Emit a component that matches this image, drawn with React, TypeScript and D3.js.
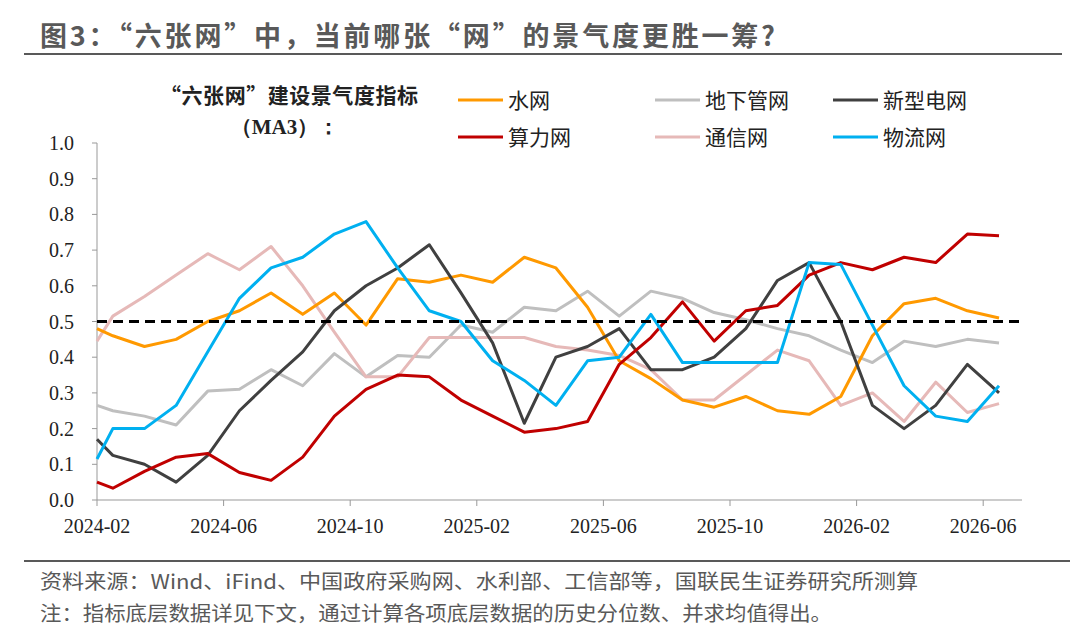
import React, { useEffect, useRef } from 'react';
import * as d3 from 'd3';

// x positions in months from 2024-02 (first point sits on the axis, the rest at mid-month)
const xPos = [0, ...d3.range(29).map((i) => i + 0.5)];
const tickLabels = ['2024-02', '2024-06', '2024-10', '2025-02', '2025-06', '2025-10', '2026-02', '2026-06'];

const water = [0.48, 0.46, 0.43, 0.45, 0.5, 0.53, 0.58, 0.52, 0.58, 0.49, 0.62, 0.61, 0.63, 0.61, 0.68, 0.65, 0.54, 0.39, 0.34, 0.28, 0.26, 0.29, 0.25, 0.24, 0.29, 0.46, 0.55, 0.565, 0.53, 0.51];
const pipe = [0.265, 0.25, 0.235, 0.21, 0.305, 0.31, 0.365, 0.32, 0.41, 0.345, 0.405, 0.4, 0.49, 0.47, 0.54, 0.53, 0.585, 0.515, 0.585, 0.565, 0.525, 0.505, 0.48, 0.46, 0.42, 0.385, 0.445, 0.43, 0.45, 0.44];
const grid = [0.17, 0.125, 0.1, 0.05, 0.125, 0.25, 0.335, 0.415, 0.53, 0.6, 0.65, 0.715, 0.58, 0.44, 0.215, 0.4, 0.43, 0.48, 0.365, 0.365, 0.4, 0.48, 0.615, 0.665, 0.5, 0.265, 0.2, 0.265, 0.38, 0.3];
const compute = [0.05, 0.033, 0.08, 0.12, 0.13, 0.077, 0.055, 0.12, 0.235, 0.31, 0.35, 0.345, 0.28, 0.235, 0.19, 0.2, 0.22, 0.38, 0.455, 0.555, 0.445, 0.53, 0.545, 0.63, 0.665, 0.645, 0.68, 0.665, 0.745, 0.74];
const telecom = [0.445, 0.515, 0.57, 0.63, 0.69, 0.645, 0.71, 0.6, 0.47, 0.345, 0.345, 0.455, 0.455, 0.455, 0.455, 0.43, 0.42, 0.405, 0.365, 0.28, 0.28, 0.35, 0.42, 0.39, 0.265, 0.3, 0.22, 0.33, 0.245, 0.27];
const logistics = [0.115, 0.2, 0.2, 0.265, 0.415, 0.565, 0.65, 0.68, 0.745, 0.78, 0.65, 0.53, 0.5, 0.39, 0.335, 0.265, 0.39, 0.4, 0.52, 0.385, 0.385, 0.385, 0.385, 0.665, 0.66, 0.49, 0.32, 0.235, 0.22, 0.32];

const seriesNames = ['水网', '地下管网', '新型电网', '算力网', '通信网', '物流网'];
const seriesValues = [water, pipe, grid, compute, telecom, logistics];
const seriesColors = ['#FF9900', '#BFBFBF', '#404040', '#C00000', '#E6B9B8', '#00B0F0'];
// draw order: light lines underneath
const drawOrder = [1, 4, 0, 2, 3, 5];

const App: React.FC = () => {
  const svgRef = useRef<SVGSVGElement>(null);

  useEffect(() => {
    if (!svgRef.current) return;
    const svg = d3.select(svgRef.current);
    svg.selectAll('*').remove();

    const left = 97, right = 1022, top = 143, bottom = 500;
    const x = d3.scaleLinear().domain([0, 29.5]).range([left, left + 31.65 * 29.5]);
    const y = d3.scaleLinear().domain([0, 1]).range([bottom, top]);
    const cjk = '"Noto Sans CJK SC", sans-serif';
    const serif = '"Liberation Serif", "Times New Roman", serif';

    // Title
    svg.append('text').attr('x', 40).attr('y', 46).attr('font-family', cjk)
      .attr('font-size', 27).attr('font-weight', 700).attr('fill', '#595959')
      .attr('textLength', 735).attr('lengthAdjust', 'spacing')
      .text('图3：“六张网”中，当前哪张“网”的景气度更胜一筹?');
    svg.append('line').attr('x1', 24).attr('x2', 1062).attr('y1', 54).attr('y2', 54)
      .attr('stroke', '#595959').attr('stroke-width', 2);

    // Subtitle
    svg.append('text').attr('x', 289).attr('y', 103).attr('text-anchor', 'middle')
      .attr('font-family', cjk).attr('font-size', 21).attr('font-weight', 700).attr('fill', '#222')
      .attr('textLength', 258).attr('lengthAdjust', 'spacing')
      .text('“六张网”建设景气度指标');
    svg.append('text').attr('x', 285).attr('y', 134).attr('text-anchor', 'middle')
      .attr('font-family', serif).attr('font-size', 21).attr('font-weight', 700).attr('fill', '#222')
      .text('（MA3）：');

    // Y axis
    svg.append('line').attr('x1', left).attr('x2', left).attr('y1', top).attr('y2', bottom).attr('stroke', '#999');
    d3.range(0, 1.01, 0.1).forEach((v) => {
      svg.append('line').attr('x1', left - 5).attr('x2', left).attr('y1', y(v)).attr('y2', y(v)).attr('stroke', '#999');
      svg.append('text').attr('x', 74).attr('y', y(v) + 7).attr('text-anchor', 'end')
        .attr('font-family', serif).attr('font-size', 20).attr('fill', '#222').text(v.toFixed(1));
    });

    // X axis
    svg.append('line').attr('x1', left).attr('x2', right).attr('y1', bottom).attr('y2', bottom).attr('stroke', '#999');
    tickLabels.forEach((lab, i) => {
      const xx = x(i * 4);
      svg.append('line').attr('x1', xx).attr('x2', xx).attr('y1', bottom).attr('y2', bottom + 6).attr('stroke', '#999');
      svg.append('text').attr('x', xx).attr('y', 533).attr('text-anchor', 'middle')
        .attr('font-family', serif).attr('font-size', 20).attr('fill', '#222').text(lab);
    });

    // Lines
    const line = d3.line<number>().x((_, i) => x(xPos[i])).y((d) => y(d));
    drawOrder.forEach((k) => {
      svg.append('path').datum(seriesValues[k]).attr('d', line).attr('fill', 'none')
        .attr('stroke', seriesColors[k]).attr('stroke-width', 3).attr('stroke-linejoin', 'round');
    });

    // 0.5 reference line
    svg.append('line').attr('x1', left).attr('x2', right).attr('y1', y(0.5)).attr('y2', y(0.5))
      .attr('stroke', '#000').attr('stroke-width', 3).attr('stroke-dasharray', '10,6');

    // Legend
    const colX = [458, 655, 833];
    const rowY = [100, 137];
    seriesNames.forEach((name, i) => {
      const lx = colX[i % 3];
      const ly = rowY[Math.floor(i / 3)];
      svg.append('line').attr('x1', lx).attr('x2', lx + 45).attr('y1', ly).attr('y2', ly)
        .attr('stroke', seriesColors[i]).attr('stroke-width', 3);
      svg.append('text').attr('x', lx + 50).attr('y', ly + 8).attr('font-family', cjk)
        .attr('font-size', 21).attr('fill', '#222').text(name);
    });

    // Footer
    svg.append('line').attr('x1', 24).attr('x2', 1070).attr('y1', 561).attr('y2', 561)
      .attr('stroke', '#595959').attr('stroke-width', 2);
    svg.append('text').attr('x', 40).attr('y', 589).attr('font-family', cjk).attr('font-size', 20)
      .attr('fill', '#595959').attr('textLength', 878).attr('lengthAdjust', 'spacingAndGlyphs')
      .text('资料来源：Wind、iFind、中国政府采购网、水利部、工信部等，国联民生证券研究所测算');
    svg.append('text').attr('x', 40).attr('y', 621).attr('font-family', cjk).attr('font-size', 20)
      .attr('fill', '#595959').attr('textLength', 792).attr('lengthAdjust', 'spacingAndGlyphs')
      .text('注：指标底层数据详见下文，通过计算各项底层数据的历史分位数、并求均值得出。');
  }, []);

  return (
    <div style={{ position: 'absolute', left: 0, top: 0 }}>
      <svg ref={svgRef} width={1080} height={644} style={{ display: 'block', background: '#fff' }} />
    </div>
  );
};

export default App;
